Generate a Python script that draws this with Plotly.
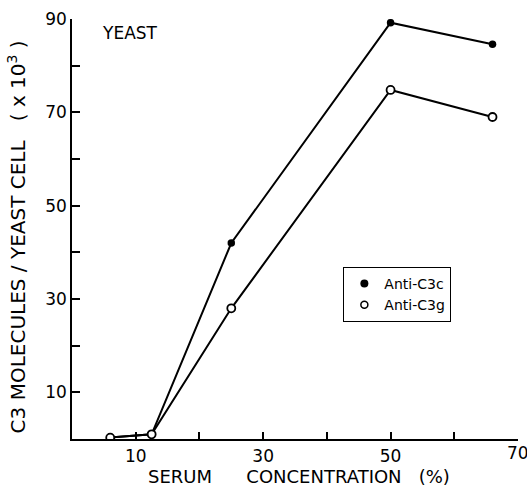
import plotly.graph_objects as go

serum = [6, 12.5, 25, 50, 66]
anti_c3c = [0.3, 1.0, 42, 89.2, 84.6]
anti_c3g = [0.3, 1.0, 28, 74.8, 69.0]

x_major = [10, 30, 50]
x_major_labels = ["10", "30", "50"]
x_minor = [20, 40, 60, 70]
x_edge_label = "70"
y_major = [10, 30, 50, 70, 90]
y_major_labels = ["10", "30", "50", "70", "90"]
y_minor = [20, 40, 60, 80]

FONT = "DejaVu Sans, Verdana, sans-serif"
NB = "\u00a0"

fig = go.Figure()
fig.add_trace(go.Scatter(
    x=serum, y=anti_c3c, mode="lines+markers", showlegend=False,
    line=dict(color="black", width=2),
    marker=dict(symbol="circle", size=7.5, color="black"),
))
fig.add_trace(go.Scatter(
    x=serum, y=anti_c3g, mode="lines+markers", showlegend=False,
    line=dict(color="black", width=2),
    marker=dict(symbol="circle", size=8, color="white", line=dict(color="black", width=1.8)),
))
# legend entries
fig.add_trace(go.Scatter(
    x=[None], y=[None], mode="markers", name="Anti-C3c",
    marker=dict(symbol="circle", size=8, color="black"),
))
fig.add_trace(go.Scatter(
    x=[None], y=[None], mode="markers", name="Anti-C3g",
    marker=dict(symbol="circle", size=7, color="white", line=dict(color="black", width=1.5)),
))

y_title = ("C3 MOLECULES / YEAST CELL" + NB * 3
           + "(" + NB + "x" + NB + "10<sup>3</sup>" + NB + ")")
x_title = "SERUM" + NB * 6 + "CONCENTRATION" + NB * 3 + "(%)"

fig.update_layout(
    width=527, height=489,
    margin=dict(l=72, r=9, t=14, b=50),
    paper_bgcolor="white", plot_bgcolor="white",
    font=dict(family=FONT, color="black", size=16),
    legend=dict(
        x=0.608, y=0.41, xanchor="left", yanchor="top",
        bordercolor="black", borderwidth=1.2, bgcolor="white",
        font=dict(size=14, family=FONT), tracegroupgap=0,
    ),
    annotations=[
        dict(text="YEAST", x=0.07, y=0.955, xref="paper", yref="paper",
             xanchor="left", yanchor="middle", showarrow=False, xshift=-3, yshift=5,
             font=dict(size=17, family=FONT)),
        dict(text=x_title, x=0.509, y=0, xref="paper", yref="paper",
             xanchor="center", yanchor="middle", showarrow=False, yshift=-37,
             font=dict(size=18, family=FONT)),
        dict(text=y_title, x=0, y=0.48, xref="paper", yref="paper", textangle=-90,
             xanchor="center", yanchor="middle", showarrow=False, xshift=-55,
             font=dict(size=20, family=FONT)),
        dict(text=x_edge_label, x=70, y=0, xref="x", yref="paper",
             xanchor="center", yanchor="middle", showarrow=False, yshift=-14,
             font=dict(size=17, family=FONT)),
    ],
)
fig.update_xaxes(
    range=[0, 70], showgrid=False, zeroline=False,
    showline=True, linecolor="black", linewidth=1.5,
    tickvals=x_major, ticktext=x_major_labels,
    ticks="inside", ticklen=7, tickwidth=1.5, tickcolor="black",
    tickfont=dict(size=17), ticklabelstandoff=1,
    minor=dict(tickvals=x_minor, ticks="inside", ticklen=7, tickwidth=1.5,
               tickcolor="black", showgrid=False),
)
fig.update_yaxes(
    range=[0, 90], showgrid=False, zeroline=False,
    showline=True, linecolor="black", linewidth=1.5,
    tickvals=y_major, ticktext=y_major_labels,
    ticks="inside", ticklen=8, tickwidth=1.5, tickcolor="black",
    tickfont=dict(size=17),
    minor=dict(tickvals=y_minor, ticks="inside", ticklen=8, tickwidth=1.5,
               tickcolor="black", showgrid=False),
)

fig.write_html("out.html")
